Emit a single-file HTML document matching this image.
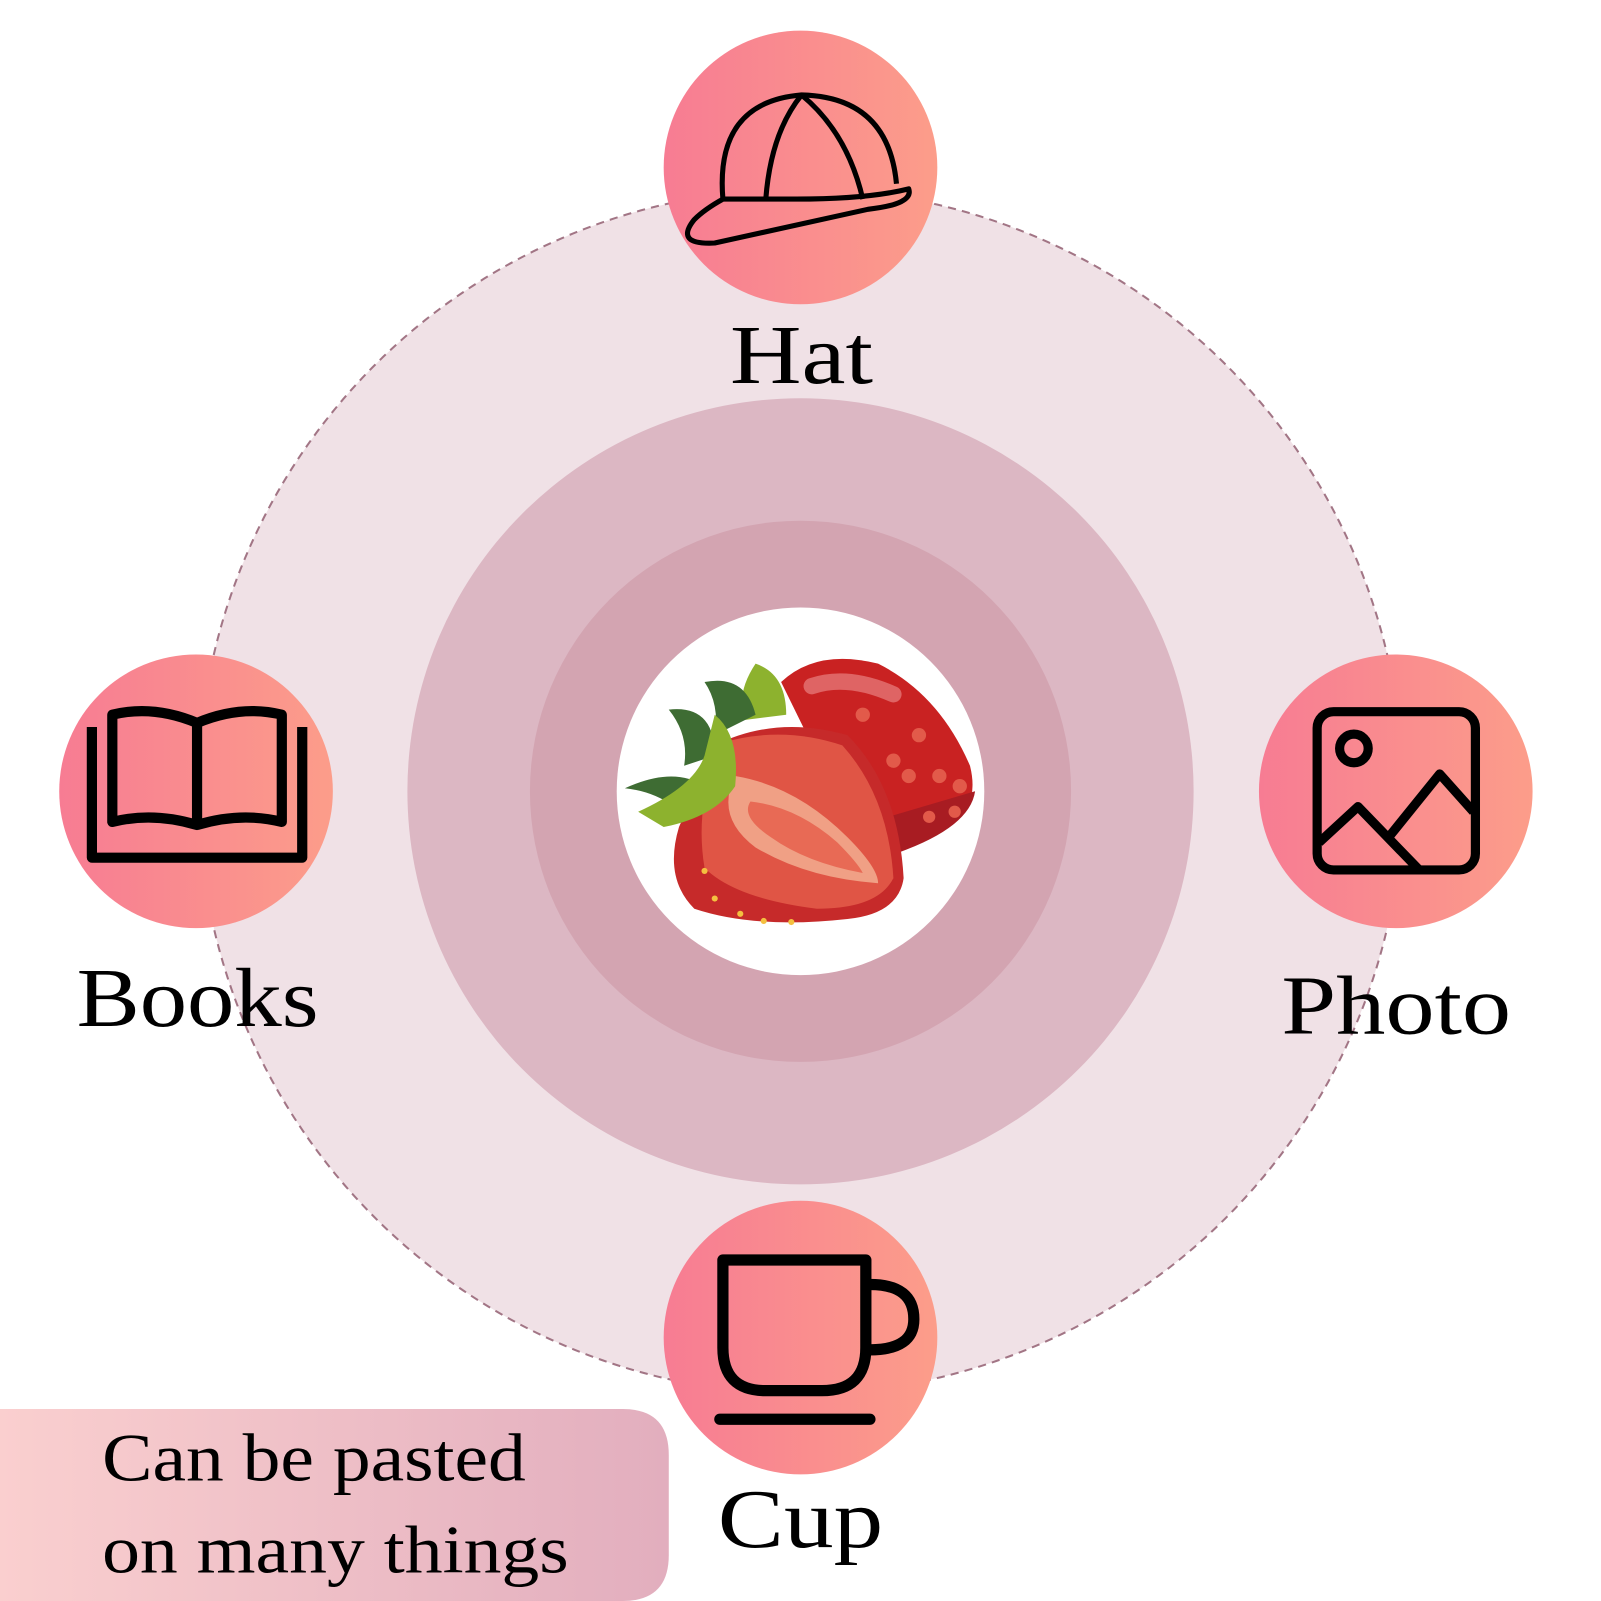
<!DOCTYPE html>
<html><head><meta charset="utf-8"><style>html,body{margin:0;padding:0;background:#fff}svg{display:block}</style></head>
<body>
<svg width="1601" height="1601" viewBox="0 0 1568 1568" xmlns="http://www.w3.org/2000/svg">
<defs>
<linearGradient id="g" x1="0" x2="1" y1="0" y2="0"><stop offset="0" stop-color="#f77c93"/><stop offset="1" stop-color="#fc9d8a"/></linearGradient>
<linearGradient id="b" x1="0" x2="1"><stop offset="0" stop-color="#facfcf"/><stop offset="1" stop-color="#e2aebe"/></linearGradient>
</defs>
<circle cx="784" cy="775" r="590" fill="#f0e1e6" stroke="#a27585" stroke-width="2" stroke-dasharray="8 6"/>
<circle cx="784" cy="775" r="385" fill="#dcb7c3"/>
<circle cx="784" cy="775" r="265" fill="#d3a4b1"/>
<circle cx="784" cy="775" r="180" fill="#fff"/>
<path d="M765 668 Q800 635 860 650 Q920 680 950 750 Q960 790 930 810 L880 835 L820 780 Z" fill="#c92222"/>
<path d="M870 800 L955 775 Q950 810 880 835 Z" fill="#a81c22"/>
<path d="M795 672 Q830 660 875 680" stroke="#e88080" stroke-width="16" stroke-linecap="round" fill="none" opacity="0.7"/>
<g fill="#e25a4a"><circle cx="845" cy="700" r="7"/><circle cx="900" cy="720" r="7"/><circle cx="875" cy="745" r="7"/><circle cx="920" cy="760" r="7"/><circle cx="890" cy="760" r="7"/><circle cx="940" cy="770" r="7"/><circle cx="910" cy="800" r="6"/><circle cx="935" cy="795" r="6"/></g>
<path d="M740 650 Q770 660 770 700 L730 705 Q720 680 740 650Z" fill="#8db22e"/>
<path d="M690 668 Q730 660 740 700 L700 720 Q705 690 690 668Z" fill="#3e6c33"/>
<path d="M655 695 Q700 690 700 740 L670 750 Q675 720 655 695Z" fill="#3e6c33"/>
<path d="M612 772 Q660 750 690 770 L660 790 Q640 775 612 772Z" fill="#3e6c33"/>
<path d="M700 730 Q760 700 830 720 Q880 770 885 860 Q880 895 830 900 Q740 910 680 890 Q650 860 665 810 Z" fill="#c62a2a"/>
<path d="M705 728 Q765 710 825 730 Q870 780 875 860 Q860 890 800 890 Q720 880 690 850 Q680 790 705 728Z" fill="#e05545"/>
<path d="M720 760 Q780 770 830 820 Q860 850 860 865 Q790 860 740 830 Q700 800 720 760Z" fill="#f0a085"/>
<path d="M735 785 Q780 790 820 825 Q840 845 845 855 Q790 845 755 820 Q725 800 735 785Z" fill="#e86a55"/>
<path d="M700 700 Q725 720 720 770 Q700 800 650 810 L625 795 Q680 770 690 740Z" fill="#8db22e"/>
<g fill="#f4c040"><circle cx="690" cy="853" r="3"/><circle cx="700" cy="880" r="3"/><circle cx="725" cy="895" r="3"/><circle cx="748" cy="902" r="3"/><circle cx="775" cy="903" r="3"/></g>
<circle cx="784" cy="164" r="134" fill="url(#g)"/>
<circle cx="192" cy="775" r="134" fill="url(#g)"/>
<circle cx="1367" cy="775" r="134" fill="url(#g)"/>
<circle cx="784" cy="1310" r="134" fill="url(#g)"/>
<g fill="none" stroke="#000" stroke-width="5" stroke-linejoin="round">
<path d="M708 195 Q700 100 785 93 Q870 95 878 180"/>
<path d="M708 195 L780 195 Q850 195 890 185 Q895 200 850 205 Q760 225 700 238 Q660 240 680 215 Q690 205 708 195"/>
<path d="M785 93 Q755 130 750 195"/><path d="M785 93 Q830 130 845 195"/>
</g>
<g fill="none" stroke="#000" stroke-width="10" stroke-linejoin="round">
<path d="M90 712 L90 840 L296 840 L296 712"/>
<path d="M110 700 Q150 690 193 708 L193 808 Q150 795 110 805 Z"/>
<path d="M193 708 Q236 690 276 700 L276 805 Q236 795 193 808"/>
</g>
<g fill="none" stroke="#000" stroke-width="9" stroke-linejoin="round">
<rect x="1290" y="697" width="155" height="155" rx="16"/>
<circle cx="1326" cy="733" r="14"/>
<path d="M1292 825 L1330 790 L1390 852 M1360 820 L1410 758 L1443 795"/>
</g>
<g fill="none" stroke="#000" stroke-width="11" stroke-linecap="round" stroke-linejoin="round">
<path d="M708 1234 L848 1234 L848 1320 Q848 1362 805 1362 L750 1362 Q708 1362 708 1320 Z"/>
<path d="M852 1258 Q895 1258 895 1292 Q895 1322 852 1322"/>
<path d="M705 1390 L852 1390"/>
</g>
<g font-family="Liberation Serif, serif" fill="#000" font-size="82" lengthAdjust="spacingAndGlyphs">
<text x="715" y="375" textLength="140" lengthAdjust="spacingAndGlyphs">Hat</text>
<text x="75" y="1005" textLength="237" lengthAdjust="spacingAndGlyphs">Books</text>
<text x="1255" y="1012" textLength="225" lengthAdjust="spacingAndGlyphs">Photo</text>
<text x="703" y="1515" textLength="162" lengthAdjust="spacingAndGlyphs">Cup</text>
</g>
<path d="M0 1380 L610 1380 Q655 1380 655 1425 L655 1523 Q655 1568 610 1568 L0 1568 Z" fill="url(#b)"/>
<g font-family="Liberation Serif, serif" font-size="66" fill="#000">
<text x="100" y="1450" textLength="415" lengthAdjust="spacingAndGlyphs">Can be pasted</text>
<text x="100" y="1540" textLength="457" lengthAdjust="spacingAndGlyphs">on many things</text>
</g>
</svg>
</body></html>
